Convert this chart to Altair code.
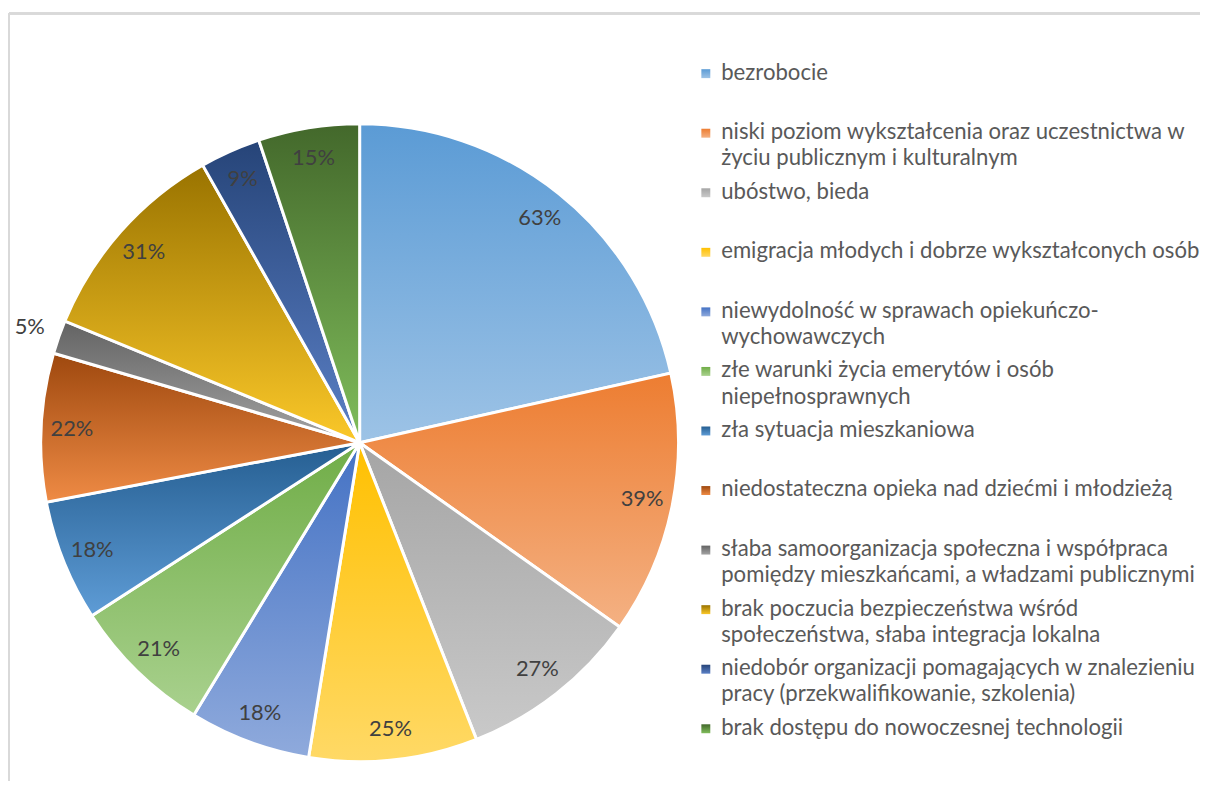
import altair as alt
import pandas as pd

categories = [
    "bezrobocie",
    "niski poziom wykształcenia oraz uczestnictwa w\nżyciu publicznym i kulturalnym",
    "ubóstwo, bieda",
    "emigracja młodych i dobrze wykształconych osób",
    "niewydolność w sprawach opiekuńczo-\nwychowawczych",
    "złe warunki życia emerytów i osób\nniepełnosprawnych",
    "zła sytuacja mieszkaniowa",
    "niedostateczna opieka nad dziećmi i młodzieżą",
    "słaba samoorganizacja społeczna i współpraca\npomiędzy mieszkańcami, a władzami publicznymi",
    "brak poczucia bezpieczeństwa wśród\nspołeczeństwa, słaba integracja lokalna",
    "niedobór organizacji pomagających w znalezieniu\npracy (przekwalifikowanie, szkolenia)",
    "brak dostępu do nowoczesnej technologii",
]
values = [63, 39, 27, 25, 18, 21, 18, 22, 5, 31, 9, 15]
labels = ["63%", "39%", "27%", "25%", "18%", "21%", "18%", "22%", "5%", "31%", "9%", "15%"]

color_top = ["#5B9BD5", "#ED7D31", "#A5A5A5", "#FFC000", "#4472C4", "#70AD47",
             "#255E91", "#9E480E", "#636363", "#997300", "#264478", "#43682B"]
color_bottom = ["#9DC3E6", "#F4B183", "#C9C9C9", "#FFD966", "#8FAADC", "#A9D18E",
                "#5E9CD6", "#EF8B45", "#A3A3A3", "#FBC829", "#5B80C6", "#80BD5B"]

df = pd.DataFrame({
    "idx": list(range(len(categories))),
    "category": categories,
    "value": values,
    "label": labels,
})


def grad(top, bottom):
    return {
        "gradient": "linear", "x1": 0, "y1": 0, "x2": 0, "y2": 1,
        "stops": [{"offset": 0, "color": top}, {"offset": 1, "color": bottom}],
    }


grads = [grad(t, b) for t, b in zip(color_top, color_bottom)]
color_enc = {
    "condition": [{"test": f"datum.idx == {i}", "value": g} for i, g in enumerate(grads[:-1])],
    "value": grads[-1],
}

W, H = 1199, 770
CX, CY, R = 353, 432, 321

base = alt.Chart(df)

pie = base.mark_arc(radius=R, stroke="white", strokeWidth=3).encode(
    theta=alt.Theta("value:Q", stack=True),
    order=alt.Order("idx:Q", sort="ascending"),
    color=color_enc,
    x=alt.value(CX),
    y=alt.value(CY),
)

lab_in = base.mark_text(font="Lato", fontSize=22, color="#404040", radius=290).encode(
    theta=alt.Theta("value:Q", stack=True),
    order=alt.Order("idx:Q", sort="ascending"),
    text=alt.condition(alt.datum.value >= 8, alt.Text("label:N"), alt.value("")),
    x=alt.value(CX),
    y=alt.value(CY),
)

lab_out = base.mark_text(font="Lato", fontSize=22, color="#404040", radius=352).encode(
    theta=alt.Theta("value:Q", stack=True),
    order=alt.Order("idx:Q", sort="ascending"),
    text=alt.condition(alt.datum.value < 8, alt.Text("label:N"), alt.value("")),
    x=alt.value(CX),
    y=alt.value(CY),
)

frame_left = base.mark_rule(color="#D9D9D9", strokeWidth=2).encode(
    x=alt.value(0), y=alt.value(0), y2=alt.value(H + 20)
)
frame_top = base.mark_rule(color="#D9D9D9", strokeWidth=2).encode(
    x=alt.value(0), x2=alt.value(W + 20), y=alt.value(0)
)

yscale = alt.Scale(domain=[0, 11], range=[60.5, 720])

leg_sq = base.mark_point(shape="square", filled=True, size=81, opacity=1).encode(
    x=alt.value(701.5),
    y=alt.Y("idx:Q", scale=yscale, axis=None),
    color=color_enc,
)

leg_txt = base.mark_text(
    font="Lato", fontSize=22.3, color="#595959", align="left",
    baseline="alphabetic", dy=6, lineBreak="\n", lineHeight=26.5,
).encode(
    x=alt.value(717),
    y=alt.Y("idx:Q", scale=yscale, axis=None),
    text="category:N",
)

chart = alt.layer(frame_left, frame_top, pie, lab_in, lab_out, leg_sq, leg_txt).properties(
    width=W, height=H,
    autosize=alt.AutoSizeParams(type="none"),
    padding={"left": 1, "top": 3, "right": 0, "bottom": 0},
).configure_view(stroke=None)

chart.save("out.html", embed_options={"renderer": "svg", "actions": False})
